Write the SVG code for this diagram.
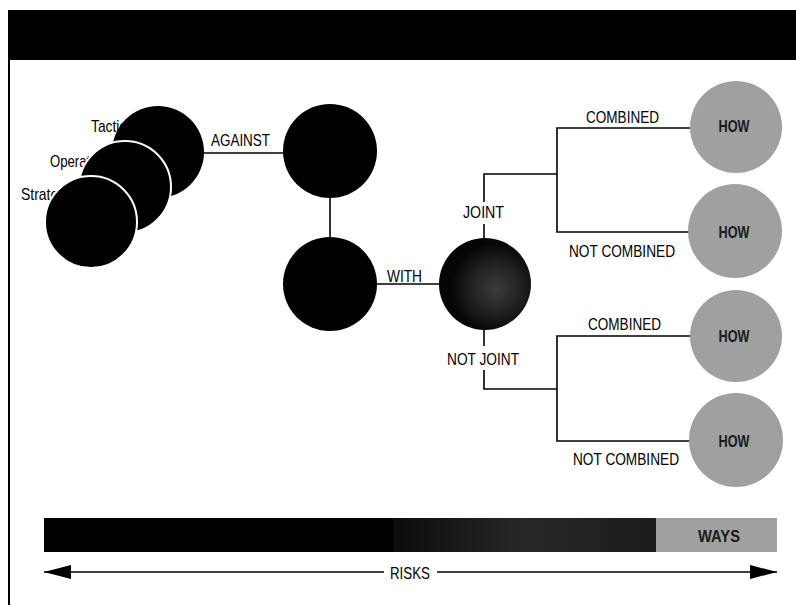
<svg xmlns="http://www.w3.org/2000/svg" width="796" height="605" viewBox="0 0 796 605">
  <style>
    .lbl { font-family: "Liberation Sans", Arial, sans-serif; font-size: 17px; fill: #000; }
    .how { font-family: "Liberation Sans", Arial, sans-serif; font-size: 17px; font-weight: bold; fill: #1a1a1a; }
    .conn { stroke: #000; stroke-width: 1.6; fill: none; }
    .blk { fill: #000; }
    .blkw { fill: #000; stroke: #fff; stroke-width: 2; }
    .gray { fill: #a0a0a0; }
  </style>
  <defs>
    <radialGradient id="darkg" cx="0.62" cy="0.55" r="0.5">
      <stop offset="0" stop-color="#3c3c3c"/>
      <stop offset="0.6" stop-color="#1e1e1e"/>
      <stop offset="1" stop-color="#050505"/>
    </radialGradient>
    <linearGradient id="barg" x1="0" y1="0" x2="1" y2="0">
      <stop offset="0" stop-color="#0c0c0c"/>
      <stop offset="0.5" stop-color="#272727"/>
      <stop offset="1" stop-color="#1c1c1c"/>
    </linearGradient>
    <marker id="arrS" markerUnits="userSpaceOnUse" markerWidth="28" markerHeight="14" refX="0" refY="7" orient="auto">
      <path d="M0,7 L27,0 L27,14 Z" fill="#000"/>
    </marker>
    <marker id="arrE" markerUnits="userSpaceOnUse" markerWidth="28" markerHeight="14" refX="27" refY="7" orient="auto">
      <path d="M0,0 L27,7 L0,14 Z" fill="#000"/>
    </marker>
  </defs>

  <rect width="796" height="605" fill="#fff"/>

  <!-- frame -->
  <g id="frame">
    <rect x="8" y="10" width="788" height="50" fill="#000"/>
    <line x1="9" y1="10" x2="9" y2="605" stroke="#000" stroke-width="2"/>
  </g>

  <!-- connectors -->
  <g id="connectors">
    <line class="conn" x1="200" y1="153" x2="285" y2="153"/>
    <line class="conn" x1="330" y1="197" x2="330" y2="238"/>
    <line class="conn" x1="376" y1="284" x2="440" y2="284"/>
    <polyline class="conn" points="484,202 484,174 557,174"/>
    <line class="conn" x1="484" y1="224" x2="484" y2="239"/>
    <polyline class="conn" points="691,128 557,128 557,232 690,232"/>
    <line class="conn" x1="484" y1="329" x2="484" y2="346"/>
    <polyline class="conn" points="484,370 484,389 557,389"/>
    <polyline class="conn" points="691,336 557,336 557,441 690,441"/>
  </g>

  <!-- level circles -->
  <g id="tactical">
    <text class="lbl" x="91" y="132" textLength="46" lengthAdjust="spacingAndGlyphs">Tactical</text>
    <circle class="blk" cx="158" cy="152" r="46"/>
  </g>
  <g id="operational">
    <text class="lbl" x="50" y="167" textLength="68" lengthAdjust="spacingAndGlyphs">Operational</text>
    <circle class="blkw" cx="125" cy="187" r="46"/>
  </g>
  <g id="strategic">
    <text class="lbl" x="21" y="200" textLength="55" lengthAdjust="spacingAndGlyphs">Strategic</text>
    <circle class="blkw" cx="91" cy="222" r="46"/>
  </g>

  <g id="against">
    <text class="lbl" x="211" y="146" textLength="59" lengthAdjust="spacingAndGlyphs">AGAINST</text>
    <circle class="blk" cx="330" cy="151" r="47"/>
  </g>
  <g id="with">
    <circle class="blk" cx="330" cy="284" r="47"/>
    <text class="lbl" x="387" y="282" textLength="35" lengthAdjust="spacingAndGlyphs">WITH</text>
  </g>
  <g id="partner">
    <circle cx="485" cy="284" r="46" fill="url(#darkg)"/>
    <text class="lbl" x="463" y="218" textLength="41" lengthAdjust="spacingAndGlyphs">JOINT</text>
    <text class="lbl" x="447" y="365" textLength="72" lengthAdjust="spacingAndGlyphs">NOT JOINT</text>
  </g>

  <g id="how1">
    <text class="lbl" x="586" y="123" textLength="73" lengthAdjust="spacingAndGlyphs">COMBINED</text>
    <circle class="gray" cx="736" cy="127" r="46"/>
    <text class="how" x="734" y="132" text-anchor="middle" textLength="31" lengthAdjust="spacingAndGlyphs">HOW</text>
  </g>
  <g id="how2">
    <text class="lbl" x="569" y="257" textLength="106" lengthAdjust="spacingAndGlyphs">NOT COMBINED</text>
    <circle class="gray" cx="735" cy="231" r="47"/>
    <text class="how" x="734" y="238" text-anchor="middle" textLength="31" lengthAdjust="spacingAndGlyphs">HOW</text>
  </g>
  <g id="how3">
    <text class="lbl" x="588" y="330" textLength="73" lengthAdjust="spacingAndGlyphs">COMBINED</text>
    <circle class="gray" cx="736" cy="336" r="46"/>
    <text class="how" x="734" y="342" text-anchor="middle" textLength="31" lengthAdjust="spacingAndGlyphs">HOW</text>
  </g>
  <g id="how4">
    <text class="lbl" x="573" y="465" textLength="106" lengthAdjust="spacingAndGlyphs">NOT COMBINED</text>
    <circle class="gray" cx="736" cy="440" r="47"/>
    <text class="how" x="734" y="447" text-anchor="middle" textLength="31" lengthAdjust="spacingAndGlyphs">HOW</text>
  </g>

  <!-- bottom bar -->
  <g id="bar">
    <rect x="44" y="518" width="350" height="34" fill="#000"/>
    <rect x="393" y="518" width="263" height="34" fill="url(#barg)"/>
    <rect x="656" y="518" width="121" height="34" class="gray"/>
    <text class="how" x="698" y="542" textLength="42" lengthAdjust="spacingAndGlyphs">WAYS</text>
  </g>

  <g id="risks">
    <line class="conn" x1="44" y1="572" x2="384" y2="572" marker-start="url(#arrS)"/>
    <line class="conn" x1="437" y1="572" x2="777" y2="572" marker-end="url(#arrE)"/>
    <text class="lbl" x="390" y="579" textLength="40" lengthAdjust="spacingAndGlyphs">RISKS</text>
  </g>
</svg>
